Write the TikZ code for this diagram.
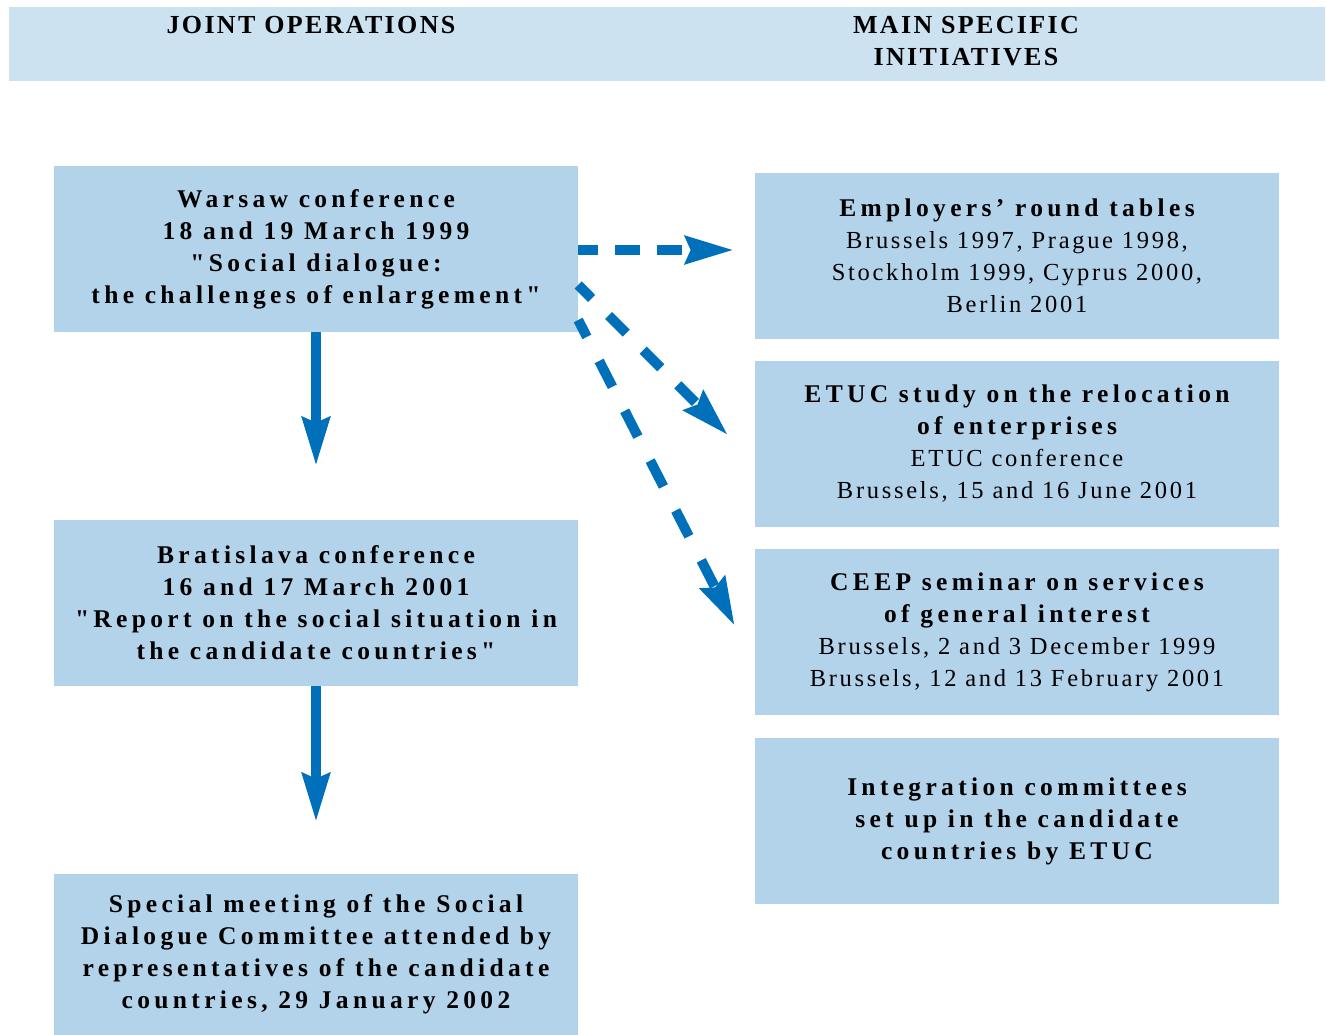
\documentclass[tikz,border=0pt]{standalone}
\usepackage{fontspec}
\setmainfont{Liberation Serif}
\newfontfamily\bsp[LetterSpace=17]{Liberation Serif}
\newfontfamily\rsp[LetterSpace=11]{Liberation Serif}
\newfontfamily\hsp[LetterSpace=9]{Liberation Serif}
\usetikzlibrary{arrows.meta}
\definecolor{boxblue}{HTML}{B3D3EA}
\definecolor{headblue}{HTML}{CDE2F0}
\definecolor{arrowblue}{HTML}{0070BA}
\newcommand{\bl}{\bsp\bfseries\fontsize{25.5}{32}\selectfont}
\newcommand{\rl}{\rsp\mdseries\fontsize{24.5}{32}\selectfont}
\begin{document}
\begin{tikzpicture}[x=1pt,y=-1pt,
  infobox/.style={fill=boxblue, draw=none, minimum width=524pt, minimum height=166pt,
    inner sep=0pt, align=center, font=\fontsize{25}{32}\selectfont},
  headtext/.style={align=center, inner sep=0pt, font=\hsp\bfseries\fontsize{26}{32}\selectfont},
  solidarrow/.style={draw=arrowblue, line width=10pt,
    -{Stealth[length=48pt,width=27pt,inset=5pt]}, arrowblue},
  dasharrow/.style={solidarrow}]
\useasboundingbox (0,0) rectangle (1326,1035);
% header band
\node[fill=headblue, minimum width=1316pt, minimum height=74pt, inner sep=0pt, anchor=north west] (band) at (9,7) {};
\node[headtext] (h1) at (311,25) {JOINT OPERATIONS};
\node[headtext] (h2) at (966,41) {MAIN SPECIFIC\\INITIATIVES};
% left column
\node[infobox] (w) at (316,249) {\bl Warsaw conference\\\bl 18 and 19 March 1999\\\bl "Social dialogue:\\\bl the challenges of enlargement"};
\node[infobox] (b) at (316,603) {\bl Bratislava conference\\\bl 16 and 17 March 2001\\\bl "Report on the social situation in\\\bl the candidate countries"};
\node[infobox, minimum height=161pt] (s) at (316,954.5) {\bl Special meeting of the Social\\\bl Dialogue Committee attended by\\\bl representatives of the candidate\\\bl countries, 29 January 2002};
% right column
\node[infobox] (a) at (1017,256) {\bl Employers’ round tables\\\rl Brussels 1997, Prague 1998,\\\rl Stockholm 1999, Cyprus 2000,\\\rl Berlin 2001};
\node[infobox] (e) at (1017,444) {\bl ETUC study on the relocation\\\bl of enterprises\\\rl ETUC conference\\\rl Brussels, 15 and 16 June 2001};
\node[infobox] (c) at (1017,632) {\bl CEEP seminar on services\\\bl of general interest\\\rl Brussels, 2 and 3 December 1999\\\rl Brussels, 12 and 13 February 2001};
\node[infobox] (d) at (1017,821) {\bl Integration committees\\\bl set up in the candidate\\\bl countries by ETUC};
% arrows
\draw[solidarrow, shorten >=54pt] (w.south) -- (b.north);
\draw[solidarrow, shorten >=52pt] (b.south) -- (s.north);
\draw[dasharrow, dash pattern=on 25pt off 17pt, dash phase=5pt, shorten >=21pt] ([yshift=-1pt]w.east) -- ([yshift=6pt]a.west);
\draw[dasharrow, dash pattern=on 25pt off 24pt, dash phase=6pt, shorten >=38pt] ([yshift=-36pt]w.east) -- ([yshift=-18pt]e.west);
\draw[dasharrow, dash pattern=on 29pt off 27pt, dash phase=10pt, shorten >=44pt] ([yshift=-71pt]w.east) -- ([yshift=-33pt]c.west);
\end{tikzpicture}
\end{document}
